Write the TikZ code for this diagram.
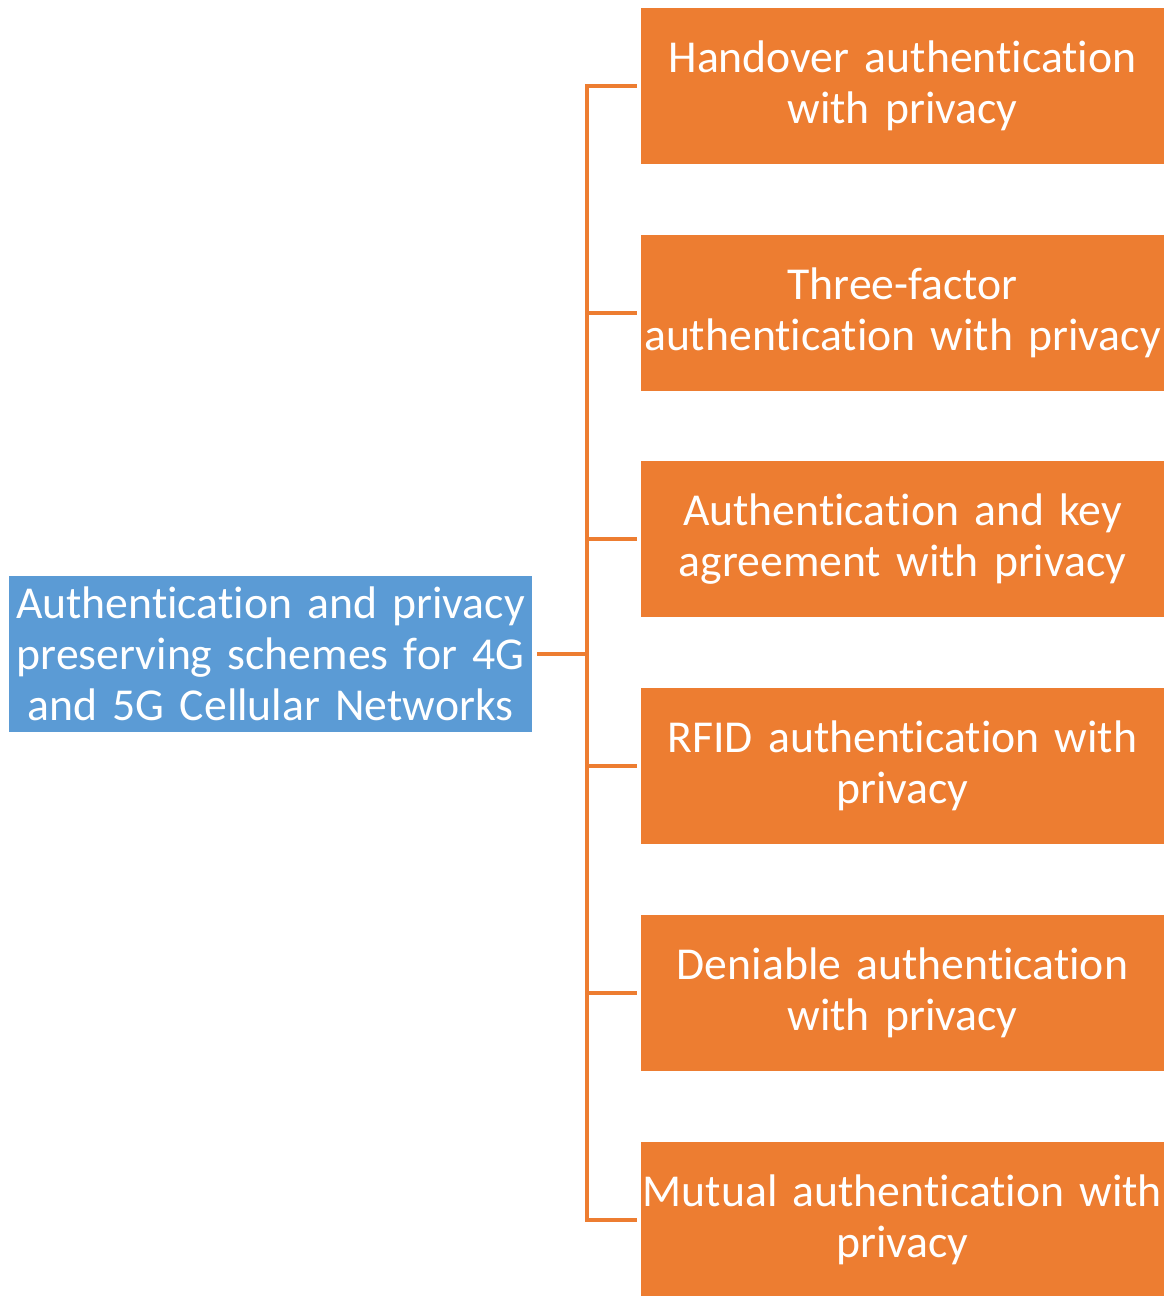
\documentclass[tikz,border=0pt]{standalone}
\usepackage{fontspec}
\setmainfont{Carlito}[Ligatures=NoCommon]
\usetikzlibrary{positioning,calc}
\definecolor{schemeblue}{HTML}{5B9BD5}
\definecolor{schemeorange}{HTML}{ED7D31}
\tikzset{
  root/.style={fill=schemeblue, text=white, minimum width=10.46cm, minimum height=3.12cm,
    text width=10.46cm, align=center, inner sep=0pt, font=\fontsize{26}{29}\selectfont},
  leaf/.style={fill=schemeorange, text=white, minimum width=10.46cm, minimum height=3.12cm,
    text width=10.46cm, align=center, inner sep=0pt, font=\fontsize{26}{29}\selectfont},
  branch/.style={draw=schemeorange, line width=2.3pt}
}

\begin{document}
\begin{tikzpicture}[node distance=1.4cm and 2.18cm]
    \useasboundingbox (0,0) rectangle (23.36,-25.92);
    \node[leaf] (hand) at (18.05,-1.72) {Handover authentication\\with privacy};
    \node[leaf, below=of hand] (three) {Three-factor\\authentication with privacy};
    \node[leaf, below=of three] (akey) {Authentication and key\\agreement with privacy};
    \node[leaf, below=of akey] (rfid) {RFID authentication with\\privacy};
    \node[leaf, below=of rfid] (deny) {Deniable authentication\\with privacy};
    \node[leaf, below=of deny] (mutual) {Mutual authentication with\\privacy};

    \node[root] (root) at (5.41,-13.08) {Authentication and privacy\\preserving schemes for 4G\\and 5G Cellular Networks};
    \coordinate (trunk) at ($(root.east)+(1.1,0)$);

    \draw[branch] ([xshift=1mm]root.east) -- (trunk);
    \draw[branch] ([xshift=-0.8mm]hand.west) -| (trunk |- mutual.west) -- ([xshift=-0.8mm]mutual.west);
    \foreach \n in {three,akey,rfid,deny}
      \draw[branch] (trunk |- \n.west) -- ([xshift=-0.8mm]\n.west);
\end{tikzpicture}
\end{document}
